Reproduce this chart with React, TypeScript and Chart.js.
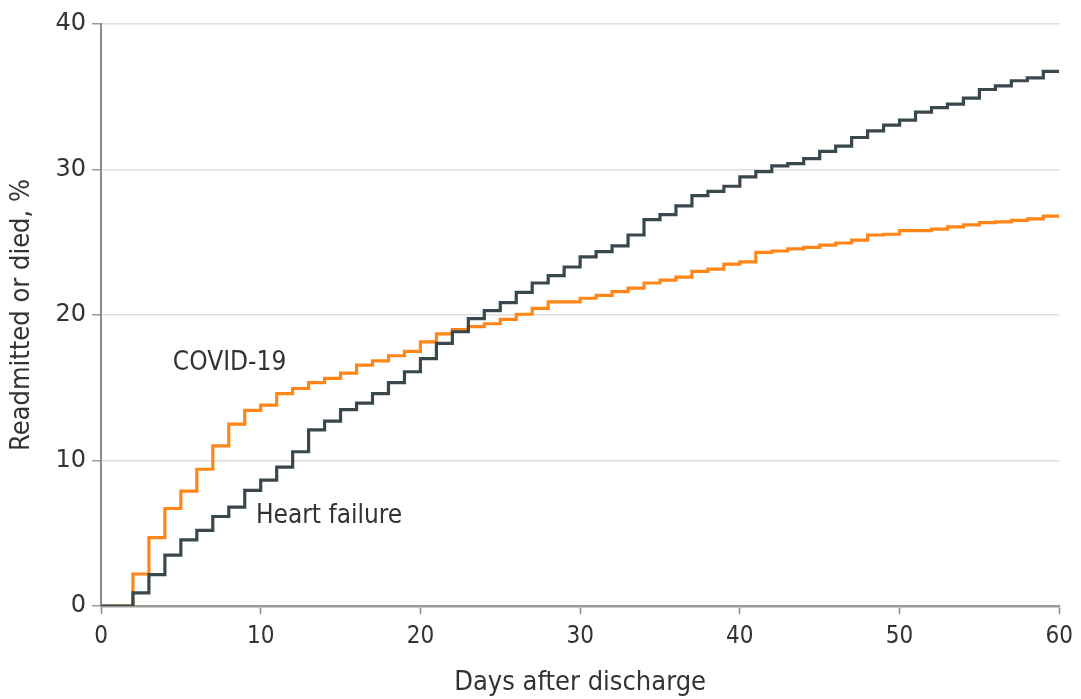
import React, { useEffect, useRef } from "react";
import { Chart, registerables } from "chart.js";

Chart.register(...registerables);

const days: number[] = Array.from({ length: 61 }, (_, i) => i);

const covid19: number[] = [
  0, 0, 2.2, 4.7, 6.7, 7.9, 9.4, 11.0, 12.5, 13.45,
  13.8, 14.6, 14.95, 15.35, 15.65, 16.0, 16.55, 16.85, 17.2, 17.5,
  18.15, 18.7, 19.0, 19.2, 19.4, 19.7, 20.05, 20.45, 20.9, 20.9,
  21.15, 21.35, 21.6, 21.85, 22.2, 22.4, 22.6, 23.0, 23.15, 23.5,
  23.65, 24.3, 24.4, 24.55, 24.65, 24.8, 24.95, 25.15, 25.5, 25.55,
  25.8, 25.8, 25.9, 26.05, 26.2, 26.35, 26.4, 26.5, 26.6, 26.8,
  26.8,
];

const heartFailure: number[] = [
  0, 0, 0.9, 2.15, 3.5, 4.55, 5.2, 6.15, 6.8, 7.95,
  8.65, 9.55, 10.6, 12.1, 12.7, 13.5, 13.95, 14.6, 15.35, 16.1,
  17.0, 18.05, 18.85, 19.75, 20.3, 20.85, 21.55, 22.2, 22.7, 23.3,
  24.0, 24.35, 24.75, 25.5, 26.55, 26.9, 27.5, 28.2, 28.5, 28.85,
  29.5, 29.85, 30.25, 30.4, 30.75, 31.25, 31.6, 32.2, 32.65, 33.05,
  33.4, 33.95, 34.25, 34.5, 34.9, 35.5, 35.75, 36.1, 36.3, 36.75,
  36.75,
];

const xTicks: number[] = [0, 10, 20, 30, 40, 50, 60];
const yTicks: number[] = [0, 10, 20, 30, 40];

const seriesLabels = [
  { text: "COVID-19", day: 4.5, value: 16.7 },
  { text: "Heart failure", day: 9.7, value: 6.2 },
];

const ORANGE = "#ff8617";
const SLATE = "#38484d";
const TEXT = "#333333";
const CONDENSED = "'DejaVu Sans Condensed', 'DejaVu Sans', sans-serif";

const labelPlugin = {
  id: "seriesLabels",
  afterDatasetsDraw(chart: any) {
    const { ctx, scales } = chart;
    ctx.save();
    ctx.fillStyle = TEXT;
    ctx.font = `26px ${CONDENSED}`;
    ctx.textAlign = "left";
    ctx.textBaseline = "middle";
    for (const l of seriesLabels) {
      ctx.fillText(l.text, scales.x.getPixelForValue(l.day), scales.y.getPixelForValue(l.value));
    }
    ctx.restore();
  },
};

export default function App() {
  const ref = useRef<HTMLCanvasElement | null>(null);

  useEffect(() => {
    if (!ref.current) return;
    const chart = new Chart(ref.current, {
      type: "line",
      data: {
        datasets: [
          {
            label: "Heart failure",
            data: days.map((d, i) => ({ x: d, y: heartFailure[i] })),
            borderColor: SLATE,
            borderWidth: 3.2,
            pointRadius: 0,
            stepped: "before",
            fill: false,
          },
          {
            label: "COVID-19",
            data: days.map((d, i) => ({ x: d, y: covid19[i] })),
            borderColor: ORANGE,
            borderWidth: 3.2,
            pointRadius: 0,
            stepped: "before",
            fill: false,
          },
        ],
      },
      options: {
        animation: false,
        responsive: true,
        maintainAspectRatio: false,
        layout: { padding: { top: 24, right: 21, left: 0, bottom: 0 } },
        plugins: {
          legend: { display: false },
          tooltip: { enabled: false },
        },
        scales: {
          x: {
            type: "linear",
            min: 0,
            max: 60,
            afterBuildTicks: (axis: any) => {
              axis.ticks = xTicks.map((v) => ({ value: v }));
            },
            afterFit: (axis: any) => {
              axis.height = 93;
            },
            grid: {
              drawOnChartArea: false,
              drawTicks: true,
              tickLength: 8,
              tickColor: "#8a8a8a",
              tickWidth: 1.5,
            },
            border: { display: true, color: "#9a9a9a", width: 2.5 },
            ticks: {
              color: TEXT,
              font: { family: CONDENSED, size: 24 },
              padding: 8,
              maxRotation: 0,
            },
            title: {
              display: true,
              text: "Days after discharge",
              color: TEXT,
              font: { family: CONDENSED, size: 27 },
              padding: { top: 0, bottom: 0 },
            },
          },
          y: {
            type: "linear",
            min: 0,
            max: 40,
            afterBuildTicks: (axis: any) => {
              axis.ticks = yTicks.map((v) => ({ value: v }));
            },
            afterFit: (axis: any) => {
              axis.width = 101;
            },
            grid: {
              color: "#dedede",
              lineWidth: 1.5,
              drawTicks: true,
              tickLength: 9,
              tickColor: "#9a9a9a",
              tickWidth: 1.5,
            },
            border: { display: true, color: "#8a8a8a", width: 2 },
            ticks: {
              color: TEXT,
              font: { family: "'DejaVu Sans', sans-serif", size: 24 },
              padding: 6,
            },
            title: {
              display: true,
              text: "Readmitted or died, %",
              color: TEXT,
              font: { family: CONDENSED, size: 27 },
              padding: { top: 6, bottom: 0 },
            },
          },
        },
      },
      plugins: [labelPlugin],
    });
    return () => chart.destroy();
  }, []);

  return (
    <div style={{ position: "absolute", left: 0, top: 0, width: 1081, height: 699, background: "#fff" }}>
      <canvas ref={ref} />
    </div>
  );
}
